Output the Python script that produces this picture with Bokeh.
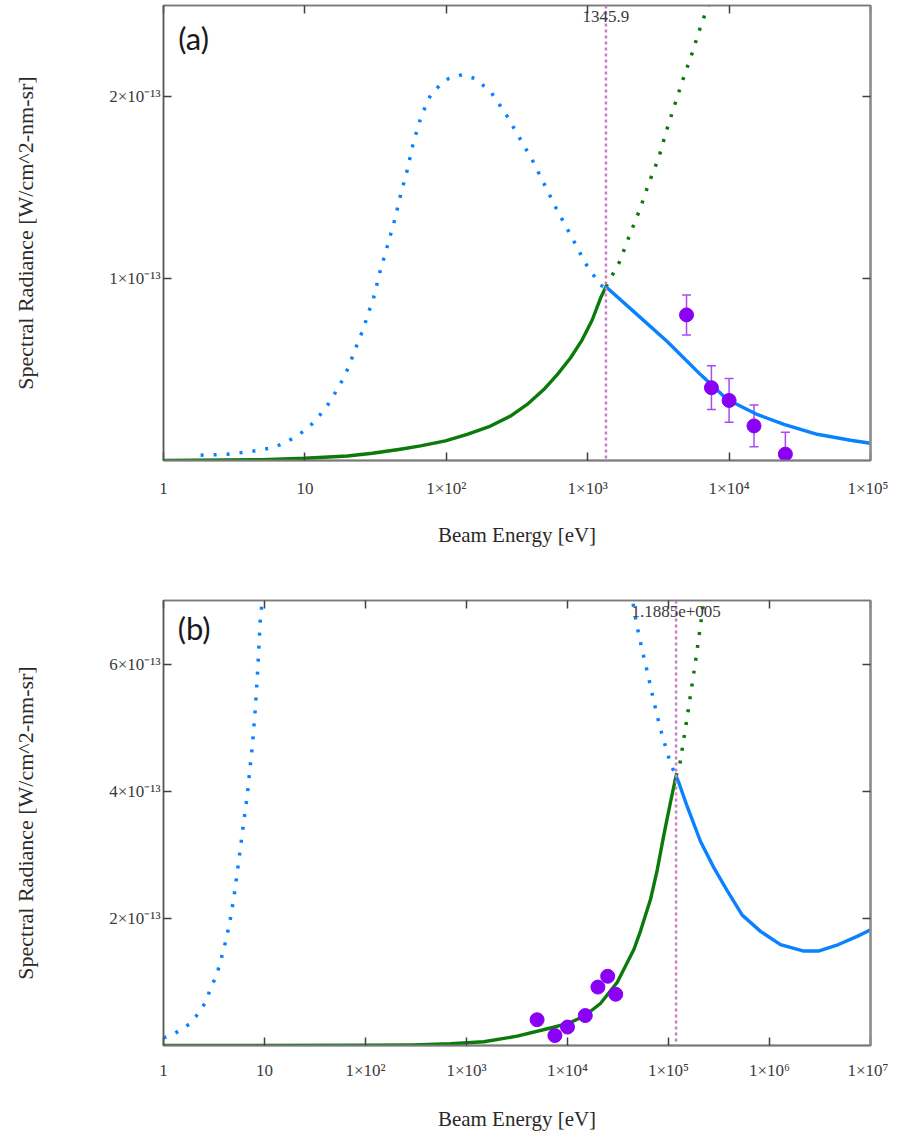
from bokeh.plotting import figure
from bokeh.layouts import column
from bokeh.models import (ColumnDataSource, FixedTicker, LogAxis, LinearAxis, Range1d,
                          Whisker, TeeHead, Label, Span, CustomJSTickFormatter)
from bokeh.embed import file_html
from bokeh.resources import INLINE

S = 1e-13  # values below are in units of 1e-13 W/cm^2-nm-sr

# ---------------- panel (a) ----------------
a_blue_dot_E = [1.83, 2.82, 4.12, 6.0, 7.5, 8.83, 10.4, 12.0, 13.5, 15.2, 16.9, 18.8, 20.7,
                22.4, 24.3, 26.4, 28.2, 30.4, 33.7, 38.2, 43.0, 47.5, 53.2, 58.6, 66.4, 78.2,
                94.0, 103.7, 129.5, 160.8, 207.6, 262.2, 324, 412, 503, 611, 768, 965, 1231, 1345.9]
a_blue_dot_v = [0.029, 0.034, 0.049, 0.071, 0.104, 0.137, 0.175, 0.224, 0.273, 0.328, 0.390,
                0.454, 0.526, 0.601, 0.668, 0.743, 0.814, 0.885, 1.027, 1.175, 1.317, 1.459, 1.601,
                1.749, 1.891, 2.016, 2.075, 2.098, 2.120, 2.098, 2.023, 1.907, 1.783, 1.641, 1.504,
                1.372, 1.230, 1.082, 0.963, 0.949]
a_green_sol_E = [1, 5, 10, 20, 30, 47.4, 65.7, 98.6, 140.6, 205.5, 284.5, 373, 489, 609, 755, 914,
                 1076, 1231, 1345.9]
a_green_sol_v = [0.0, 0.005, 0.012, 0.025, 0.040, 0.062, 0.080, 0.108, 0.144, 0.189, 0.244, 0.308,
                 0.390, 0.472, 0.563, 0.663, 0.772, 0.891, 0.955]
a_green_dot_E = [1345.9, 1678, 1976, 2336, 2705, 3183, 3590, 4110, 4733, 5480, 6285, 7400]
a_green_dot_v = [0.955, 1.091, 1.237, 1.379, 1.523, 1.665, 1.807, 1.951, 2.097, 2.239, 2.384, 2.54]
a_blue_sol_E = [1345.9, 2119, 3650, 6280, 9700, 15800, 24400, 42000, 72300, 100000]
a_blue_sol_v = [0.955, 0.818, 0.654, 0.472, 0.335, 0.253, 0.199, 0.144, 0.111, 0.095]
a_data_E = [5000, 7500, 10000, 15000, 25000]
a_data_v = [0.80, 0.40, 0.33, 0.19, 0.035]
a_data_err = [0.11, 0.12, 0.12, 0.115, 0.12]
a_cross_E = 1345.9
a_cross_label = "1345.9"
a_xticks = [1, 10, 100, 1000, 10000, 100000]
a_xlabels = ["1", "10", "1×10²", "1×10³", "1×10⁴", "1×10⁵"]
a_yticks = [1e-13, 2e-13]
a_ylabels = ["1×10⁻¹³", "2×10⁻¹³"]

# ---------------- panel (b) ----------------
b_blue_dotL_E = [1.0, 1.26, 1.59, 1.89, 2.24, 2.65, 2.92, 3.35, 3.95, 4.50, 4.97, 5.37, 5.79, 6.24,
                 6.75, 7.16, 7.61, 8.15, 8.59, 9.13, 9.49, 9.8]
b_blue_dotL_v = [0.12, 0.182, 0.275, 0.363, 0.517, 0.698, 0.903, 1.100, 1.510, 1.912, 2.320, 2.721,
                 3.123, 3.529, 3.931, 4.343, 4.738, 5.347, 5.949, 6.761, 6.968, 7.2]
b_blue_dotR_E = [42500, 48200, 54900, 62900, 71600, 82100, 97100, 106400, 118850]
b_blue_dotR_v = [7.15, 6.633, 6.221, 5.819, 5.413, 5.012, 4.610, 4.405, 4.24]
b_green_dot_E = [118850, 129400, 155300, 185100, 218600, 228000]
b_green_dot_v = [4.24, 4.42, 5.23, 6.04, 6.87, 7.1]
b_green_sol_E = [1, 100, 300, 695, 1483, 3175, 6790, 9930, 14500, 21200, 31100, 45400, 52800,
                 66400, 77300, 89900, 104700, 118850]
b_green_sol_v = [0.0, 0.003, 0.01, 0.028, 0.059, 0.147, 0.275, 0.343, 0.456, 0.661, 0.996, 1.51,
                 1.80, 2.30, 2.76, 3.31, 3.83, 4.24]
b_blue_sol_E = [118850, 126500, 153100, 207600, 281000, 381000, 537000, 815000, 1285000, 2190000,
                3050000, 4820000, 7380000, 10000000]
b_blue_sol_v = [4.24, 4.136, 3.76, 3.209, 2.798, 2.437, 2.051, 1.795, 1.588, 1.486, 1.486, 1.588,
                1.717, 1.819]
b_data_E = [5000, 7500, 10000, 15000, 20000, 25000, 30000]
b_data_v = [0.405, 0.157, 0.29, 0.471, 0.919, 1.089, 0.806]
b_data_err = [0.04, 0.04, 0.04, 0.04, 0.04, 0.04, 0.04]
b_cross_E = 1.1885e5
b_cross_label = "1.1885e+005"
b_xticks = [1, 10, 100, 1000, 10000, 100000, 1000000, 10000000]
b_xlabels = ["1", "10", "1×10²", "1×10³", "1×10⁴", "1×10⁵", "1×10⁶", "1×10⁷"]
b_yticks = [2e-13, 4e-13, 6e-13]
b_ylabels = ["2×10⁻¹³", "4×10⁻¹³", "6×10⁻¹³"]

BLUE = "#0A82FF"
GREEN = "#0A7A0A"
PURPLE = "#8A00F5"
ERRC = "#A64CF2"
MAG = "#C77DC7"
TXT = "#3A3A3A"
SERIF = "Liberation Serif"
FRAME = "#7A7A7A"


def sc(vals):
    return [v * S for v in vals]


def make_panel(x_end, y_end, xticks, xlabels, yticks, ylabels, height, top_border, bottom_border,
               curves, data, cross_E, cross_label, cross_y, panel_text, panel_xy,
               lab_standoff, title_standoff):
    p = figure(width=888, height=height, x_axis_type="log",
               x_range=Range1d(1, x_end), y_range=Range1d(0, y_end),
               output_backend="svg", toolbar_location=None,
               min_border_left=163, min_border_right=18,
               min_border_top=top_border, min_border_bottom=bottom_border)
    p.grid.visible = False
    p.background_fill_color = "white"
    p.outline_line_color = FRAME
    p.outline_line_width = 1.5

    xa = p.xaxis[0]
    xa.ticker = FixedTicker(ticks=xticks)
    xa.major_label_overrides = {t: l for t, l in zip(xticks, xlabels)}
    xa.minor_tick_line_color = None
    xa.major_tick_in = 8
    xa.major_tick_out = 0
    xa.major_tick_line_color = "#404040"
    xa.major_tick_line_width = 1.5
    xa.axis_line_color = FRAME
    xa.axis_line_width = 2
    xa.major_label_text_font = SERIF
    xa.major_label_text_font_size = "17px"
    xa.major_label_text_color = TXT
    xa.major_label_standoff = lab_standoff
    xa.axis_label = "Beam Energy [eV]"
    xa.axis_label_text_font = SERIF
    xa.axis_label_text_font_size = "21px"
    xa.axis_label_text_font_style = "normal"
    xa.axis_label_text_color = "#2A2A2A"
    xa.axis_label_standoff = title_standoff

    ya = p.yaxis[0]
    ya.ticker = FixedTicker(ticks=yticks)
    ya.major_label_overrides = {t: l for t, l in zip(yticks, ylabels)}
    ya.minor_tick_line_color = None
    ya.major_tick_in = 8
    ya.major_tick_out = 0
    ya.major_tick_line_color = "#404040"
    ya.major_tick_line_width = 1.5
    ya.axis_line_color = "#555555"
    ya.axis_line_width = 1.5
    ya.major_label_text_font = SERIF
    ya.major_label_text_font_size = "17px"
    ya.major_label_text_color = TXT
    ya.major_label_standoff = 3
    ya.axis_label = "Spectral Radiance [W/cm^2-nm-sr]"
    ya.axis_label_text_font = SERIF
    ya.axis_label_text_font_size = "22px"
    ya.axis_label_text_font_style = "normal"
    ya.axis_label_text_color = "#2A2A2A"
    ya.axis_label_standoff = 68

    blank = CustomJSTickFormatter(code="return ''")
    top = LogAxis(ticker=FixedTicker(ticks=xticks), formatter=blank,
                  major_tick_in=8, major_tick_out=0, minor_tick_line_color=None,
                  major_tick_line_color="#404040", major_tick_line_width=1.5,
                  axis_line_color=FRAME, axis_line_width=1.5,
                  major_label_text_font_size="0px", major_label_standoff=0)
    p.add_layout(top, "above")
    right = LinearAxis(ticker=FixedTicker(ticks=yticks), formatter=blank,
                       major_tick_in=8, major_tick_out=0, minor_tick_line_color=None,
                       major_tick_line_color="#404040", major_tick_line_width=1.5,
                       axis_line_color="#8C8C8C", axis_line_width=2.5,
                       major_label_text_font_size="0px", major_label_standoff=0)
    p.add_layout(right, "right")

    # vertical crossing line
    p.add_layout(Span(location=cross_E, dimension="height", line_color=MAG,
                      line_width=2.5, line_dash="3 3"))

    for (E, v, color, dotted) in curves:
        if dotted:
            p.line(E, sc(v), line_color=color, line_width=3.5, line_dash="3 10", line_cap="butt")
        else:
            p.line(E, sc(v), line_color=color, line_width=3.4, line_join="round")

    dE, dv, derr = data
    src = ColumnDataSource(dict(x=dE, y=sc(dv),
                                lo=[(a - b) * S for a, b in zip(dv, derr)],
                                hi=[(a + b) * S for a, b in zip(dv, derr)]))
    w = Whisker(base="x", lower="lo", upper="hi", source=src, line_color=ERRC, line_width=1.5,
                upper_head=TeeHead(size=9, line_color=ERRC, line_width=1.5),
                lower_head=TeeHead(size=9, line_color=ERRC, line_width=1.5))
    p.add_layout(w)
    p.scatter("x", "y", source=src, size=14, fill_color=PURPLE, line_color=PURPLE)

    p.add_layout(Label(x=cross_E, y=cross_y * S, text=cross_label, text_align="center",
                       text_baseline="middle", text_font=SERIF, text_font_size="17px",
                       text_color="#3A3A3A"))
    p.add_layout(Label(x=panel_xy[0], y=panel_xy[1] * S, text=panel_text, text_align="left",
                       text_baseline="middle", text_font="Lato", text_font_size="31px",
                       text_color="#1A1A1A"))
    return p


pa = make_panel(1e5, 2.5e-13, a_xticks, a_xlabels, a_yticks, a_ylabels,
                height=550, top_border=5, bottom_border=90,
                curves=[(a_blue_dot_E, a_blue_dot_v, BLUE, True),
                        (a_green_dot_E, a_green_dot_v, GREEN, True),
                        (a_green_sol_E, a_green_sol_v, GREEN, False),
                        (a_blue_sol_E, a_blue_sol_v, BLUE, False)],
                data=(a_data_E, a_data_v, a_data_err),
                cross_E=a_cross_E, cross_label=a_cross_label, cross_y=2.44,
                panel_text="(a)", panel_xy=(1.27, 2.32), lab_standoff=18, title_standoff=22)

pb = make_panel(1e7, 7e-13, b_xticks, b_xlabels, b_yticks, b_ylabels,
                height=583, top_border=50, bottom_border=80,
                curves=[(b_blue_dotL_E, b_blue_dotL_v, BLUE, True),
                        (b_blue_dotR_E, b_blue_dotR_v, BLUE, True),
                        (b_green_dot_E, b_green_dot_v, GREEN, True),
                        (b_green_sol_E, b_green_sol_v, GREEN, False),
                        (b_blue_sol_E, b_blue_sol_v, BLUE, False)],
                data=(b_data_E, b_data_v, b_data_err),
                cross_E=b_cross_E, cross_label=b_cross_label, cross_y=6.82,
                panel_text="(b)", panel_xy=(1.38, 6.56), lab_standoff=15, title_standoff=24)

layout = column(pa, pb)
open("out.html", "w").write(file_html(layout, INLINE))
